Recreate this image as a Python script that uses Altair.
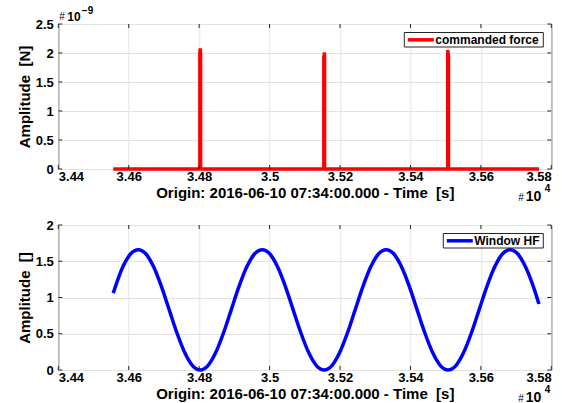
import altair as alt
import pandas as pd

FONT = "Liberation Sans"
INK = "#262626"
GRID = "#e3e3e3"
NBSP = "\u00a0"

# Commanded force: time [s], amplitude in units of 1e-9 N
force_time = [34556, 34802, 34802, 34803, 34804, 34804,
              35154, 35154, 35156, 35156,
              35506, 35506, 35508, 35508, 35765]
force_value = [0, 0, 2.00, 2.08, 2.00, 0,
               0, 1.92, 2.01, 0,
               0, 2.05, 1.93, 0, 0]

# Window HF: time [s], amplitude []
window_time = [34556,
               34583, 34605, 34627, 34649, 34671, 34693, 34715, 34737, 34759, 34781,
               34803, 34825, 34847, 34869, 34891, 34913, 34935, 34957, 34979, 35001,
               35023, 35045, 35067, 35089, 35111, 35133,
               35155, 35177, 35199, 35221, 35243, 35265, 35287, 35309, 35331, 35353,
               35375, 35397, 35419, 35441, 35463, 35485,
               35507, 35529, 35551, 35573, 35595, 35617, 35639, 35661, 35683, 35705,
               35727, 35749,
               35765]
window_value = [1.06,
                1.42, 1.60, 1.66, 1.60, 1.42, 1.15, 0.83, 0.51, 0.24, 0.06,
                0.00, 0.06, 0.24, 0.51, 0.83, 1.15, 1.42, 1.60, 1.66, 1.60,
                1.42, 1.15, 0.83, 0.51, 0.24, 0.06,
                0.00, 0.06, 0.24, 0.51, 0.83, 1.15, 1.42, 1.60, 1.66, 1.60,
                1.42, 1.15, 0.83, 0.51, 0.24, 0.06,
                0.00, 0.06, 0.24, 0.51, 0.83, 1.15, 1.42, 1.60, 1.66, 1.60,
                1.42, 1.15,
                0.91]

x_ticks = [34400, 34600, 34800, 35000, 35200, 35400, 35600, 35800]
force_yticks = [0, 0.5, 1, 1.5, 2, 2.5]
window_yticks = [0, 0.5, 1, 1.5, 2]

# double spaces are kept with a no-break space (SVG collapses plain runs)
x_title = "Origin: 2016-06-10 07:34:00.000 - Time " + NBSP + "[s]"
force_ytitle = "Amplitude " + NBSP + "[N]"
window_ytitle = "Amplitude " + NBSP + "[]"

W, H = 493, 145
GAP = 56
LEFT, TOP = 58.3, 24
TICK = 4


def panel(times, values, color, name, ydomain, yticks, ytitle, interp,
          legend_x0, exponent=None):
    df = pd.DataFrame({"t": times, "v": values, "i": list(range(len(times)))})
    xscale = alt.Scale(domain=[x_ticks[0], x_ticks[-1]], nice=False, zero=False)
    yscale = alt.Scale(domain=ydomain, nice=False, zero=False)

    xaxis = alt.Axis(values=x_ticks, title=x_title, grid=True, ticks=False,
                     domain=False, labelPadding=1, titlePadding=2,
                     labelExpr="toString(round(datum.value / 100) / 100)")
    yaxis = alt.Axis(values=yticks, title=ytitle, grid=True, ticks=False,
                     domain=False, labelPadding=5, titlePadding=3, format="~g")

    line = alt.Chart(df).mark_line(
        color=color, strokeWidth=3.5, interpolate=interp, clip=False
    ).encode(
        x=alt.X("t:Q", scale=xscale, axis=xaxis),
        y=alt.Y("v:Q", scale=yscale, axis=yaxis),
        order="i:Q",
    )

    # inward tick marks on all four sides of the box
    xt = pd.DataFrame({"t": x_ticks})
    yt = pd.DataFrame({"v": yticks})
    tx_bottom = alt.Chart(xt).mark_rule(color=INK, strokeWidth=1).encode(
        x=alt.X("t:Q", scale=xscale, axis=xaxis),
        y=alt.value(H), y2=alt.value(H - TICK))
    tx_top = alt.Chart(xt).mark_rule(color=INK, strokeWidth=1).encode(
        x=alt.X("t:Q", scale=xscale, axis=xaxis),
        y=alt.value(0), y2=alt.value(TICK))
    ty_left = alt.Chart(yt).mark_rule(color=INK, strokeWidth=1).encode(
        y=alt.Y("v:Q", scale=yscale, axis=yaxis),
        x=alt.value(0), x2=alt.value(TICK))
    ty_right = alt.Chart(yt).mark_rule(color=INK, strokeWidth=1).encode(
        y=alt.Y("v:Q", scale=yscale, axis=yaxis),
        x=alt.value(W), x2=alt.value(W - TICK))

    # legend box in the top-right corner
    box = alt.Chart().mark_rect(fill="white", stroke=INK, strokeWidth=1).encode(
        x=alt.value(legend_x0), x2=alt.value(W - 8),
        y=alt.value(8.5), y2=alt.value(23))
    swatch = alt.Chart().mark_rule(color=color, strokeWidth=3.5).encode(
        x=alt.value(legend_x0 + 3.5), x2=alt.value(legend_x0 + 29.5),
        y=alt.value(15.8))
    label = alt.Chart().mark_text(
        text=name, align="left", baseline="middle", font=FONT,
        fontSize=12, fontWeight="bold", color="black"
    ).encode(x=alt.value(legend_x0 + 31), y=alt.value(16.3))

    def note(txt, x, y, size, weight="bold"):
        return alt.Chart().mark_text(
            text=txt, align="left", baseline="alphabetic", font=FONT,
            fontSize=size, fontWeight=weight, color="black"
        ).encode(x=alt.value(x), y=alt.value(y))

    # x multiplier at the lower right
    layers = [line, tx_bottom, tx_top, ty_left, ty_right, box, swatch, label,
              note("#", 460, H + 31.5, 10, "normal"),
              note("10", 467.5, H + 31.5, 14),
              note("4", 486.5, H + 23, 10)]
    if exponent is not None:
        layers += [note("#", 1, -4.5, 10, "normal"),
                   note("10", 9, -3.5, 12),
                   note(exponent, 23.5, -10.3, 10)]

    return alt.layer(*layers).properties(width=W, height=H)


top = panel(force_time, force_value, "red", "commanded force",
            [0, 2.5], force_yticks, force_ytitle, "linear",
            346, exponent="\u22129")
bottom = panel(window_time, window_value, "blue", "Window HF",
               [0, 2], window_yticks, window_ytitle, "monotone",
               385)

# with autosize "none" the page is the concat width plus padding; the
# vertical extent comes from the padding alone
chart = alt.vconcat(top, bottom, spacing=GAP).properties(
    bounds="flush",
    autosize=alt.AutoSizeParams(type="none"),
    padding={"left": LEFT, "top": TOP,
             "right": 562 - LEFT - W,
             "bottom": 403 - TOP},
).configure_view(
    stroke=INK, strokeWidth=1
).configure_axis(
    labelFont=FONT, labelFontSize=13, labelFontWeight="bold", labelColor="black",
    titleFont=FONT, titleFontSize=15, titleFontWeight="bold", titleColor="black",
    gridColor=GRID, gridWidth=1,
)

chart.save("out.html", embed_options={"renderer": "svg", "actions": False})
